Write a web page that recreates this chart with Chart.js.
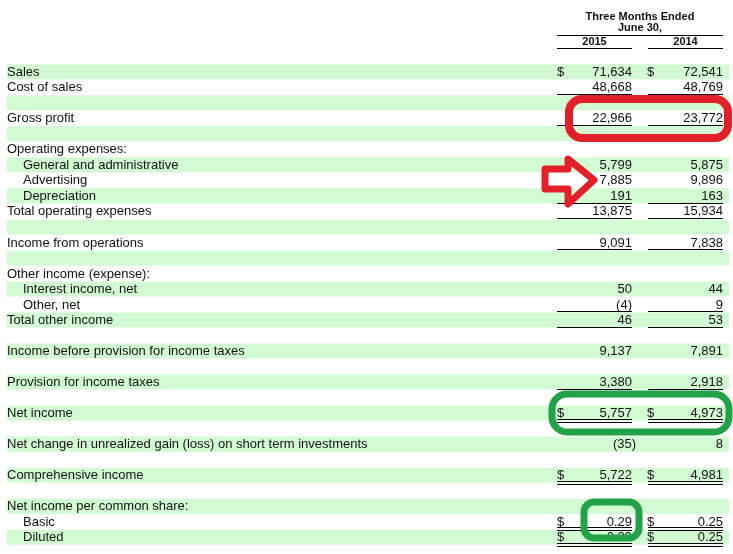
<!DOCTYPE html>
<html>
<head>
<meta charset="utf-8">
<script src="https://cdn.jsdelivr.net/npm/chart.js@4/dist/chart.umd.min.js"></script>
<style>
  html, body { margin: 0; padding: 0; background: #fff; }
  #wrap { width: 733px; height: 554px; position: relative; }
</style>
</head>
<body>
<div id="wrap"><canvas id="myChart"></canvas></div>
<script>
// rows of the statement
const rowLabels = [
  'Sales', 'Cost of sales', '', 'Gross profit', '',
  'Operating expenses:', 'General and administrative', 'Advertising', 'Depreciation',
  'Total operating expenses', '', 'Income from operations', '',
  'Other income (expense):', 'Interest income, net', 'Other, net', 'Total other income', '',
  'Income before provision for income taxes', '', 'Provision for income taxes', '',
  'Net income', '', 'Net change in unrealized gain (loss) on short term investments', '',
  'Comprehensive income', '', 'Net income per common share:', 'Basic', 'Diluted'
];
const indentedRows = [6, 7, 8, 14, 15, 29, 30];

const years = ['2015', '2014'];
const values2015 = [71634, 48668, null, 22966, null, null, 5799, 7885, 191, 13875, null, 9091, null,
  null, 50, -4, 46, null, 9137, null, 3380, null, 5757, null, -35, null, 5722, null, null, 0.29, 0.29];
const values2014 = [72541, 48769, null, 23772, null, null, 5875, 9896, 163, 15934, null, 7838, null,
  null, 44, 9, 53, null, 7891, null, 2918, null, 4973, null, 8, null, 4981, null, null, 0.25, 0.25];

const dollarRows = [0, 22, 26, 29, 30];
const singleRuleRows = [1, 3, 8, 9, 11, 15, 16, 20];
const doubleRuleRows = [22, 26, 29, 30];

// layout (pixels on the x scale)
const BAND_COLOR = '#d3fbd3';
const TEXT_COLOR = '#111';
const FONT = '"Liberation Sans", Arial, sans-serif';
const cols = [
  { dollar: 557, right: 632, ruleL: 557, ruleR: 632 },
  { dollar: 647, right: 723, ruleL: 648, ruleR: 723 }
];

const bandRanges = rowLabels.map((_, i) => (i % 2 === 0 ? [7, 729] : null));

function fmt(v) {
  if (Math.abs(v) < 1) return v.toFixed(2);
  const s = Math.abs(v).toLocaleString('en-US');
  return v < 0 ? '(' + s + ')' : s;
}

function roundRect(ctx, x, y, w, h, r) {
  ctx.beginPath();
  ctx.moveTo(x + r, y);
  ctx.arcTo(x + w, y, x + w, y + h, r);
  ctx.arcTo(x + w, y + h, x, y + h, r);
  ctx.arcTo(x, y + h, x, y, r);
  ctx.arcTo(x, y, x + w, y, r);
  ctx.closePath();
}

const tablePlugin = {
  id: 'tableText',
  afterDatasetsDraw(chart) {
    const ctx = chart.ctx;
    const xs = chart.scales.x;
    const ys = chart.scales.y;
    const rowH = (ys.bottom - ys.top) / rowLabels.length;
    const px = v => xs.getPixelForValue(v);

    ctx.save();
    ctx.fillStyle = TEXT_COLOR;
    ctx.strokeStyle = '#000';
    ctx.lineWidth = 1;

    // header
    ctx.font = 'bold 11px ' + FONT;
    ctx.textAlign = 'center';
    ctx.textBaseline = 'middle';
    const mid = (px(cols[0].ruleL) + px(cols[1].ruleR)) / 2;
    ctx.fillText('Three Months Ended', mid, 17);
    ctx.fillText('June 30,', mid, 28);
    ctx.beginPath();
    ctx.moveTo(px(cols[0].ruleL), 35.5);
    ctx.lineTo(px(cols[1].ruleR), 35.5);
    years.forEach((yr, c) => {
      const l = px(cols[c].ruleL), r = px(cols[c].ruleR);
      ctx.fillText(yr, (l + r) / 2, 42);
      ctx.moveTo(l, 48.5);
      ctx.lineTo(r, 48.5);
    });
    ctx.stroke();

    // row labels and numbers
    ctx.font = '13px ' + FONT;
    rowLabels.forEach((lab, i) => {
      const y = ys.getPixelForValue(i);
      ctx.textAlign = 'left';
      if (lab) ctx.fillText(lab, px(indentedRows.includes(i) ? 23 : 7), y + 0.5);
      [values2015, values2014].forEach((vals, c) => {
        const v = vals[i];
        if (v === null) return;
        if (dollarRows.includes(i)) {
          ctx.textAlign = 'left';
          ctx.fillText('$', px(cols[c].dollar), y + 0.5);
        }
        ctx.textAlign = 'right';
        const hang = v < 0 && Math.abs(v) >= 10 ? 4 : 0;
        ctx.fillText(fmt(v), px(cols[c].right) + hang, y + 0.5);
      });
      const bottom = Math.round(y + rowH / 2);
      ctx.beginPath();
      cols.forEach(col => {
        if (singleRuleRows.includes(i)) {
          ctx.moveTo(px(col.ruleL), bottom - 0.5);
          ctx.lineTo(px(col.ruleR), bottom - 0.5);
        }
        if (doubleRuleRows.includes(i)) {
          ctx.moveTo(px(col.ruleL), bottom - 1.5);
          ctx.lineTo(px(col.ruleR), bottom - 1.5);
          ctx.moveTo(px(col.ruleL), bottom + 1.5);
          ctx.lineTo(px(col.ruleR), bottom + 1.5);
        }
      });
      ctx.stroke();
    });

    // hand-drawn highlights
    ctx.lineJoin = 'round';
    ctx.lineWidth = 8;
    ctx.strokeStyle = '#e3202a';
    roundRect(ctx, 569, 99, 159, 39, 13);
    ctx.stroke();
    ctx.lineWidth = 7;
    ctx.beginPath();
    ctx.moveTo(545, 169);
    ctx.lineTo(568, 169);
    ctx.lineTo(568, 159);
    ctx.lineTo(594, 180);
    ctx.lineTo(568, 204);
    ctx.lineTo(568, 189);
    ctx.lineTo(545, 189);
    ctx.closePath();
    ctx.stroke();

    ctx.lineWidth = 7;
    ctx.strokeStyle = '#23a348';
    roundRect(ctx, 552, 394, 177, 38, 15);
    ctx.stroke();
    roundRect(ctx, 584, 502, 55, 36, 10);
    ctx.stroke();
    ctx.restore();
  }
};

new Chart(document.getElementById('myChart'), {
  type: 'bar',
  data: {
    labels: rowLabels,
    datasets: [{
      data: bandRanges,
      backgroundColor: BAND_COLOR,
      borderWidth: 0,
      barPercentage: 1,
      categoryPercentage: 0.97
    }]
  },
  options: {
    indexAxis: 'y',
    responsive: true,
    maintainAspectRatio: false,
    animation: false,
    layout: { padding: { top: 64, bottom: 9, left: 0, right: 0 } },
    scales: {
      x: { type: 'linear', min: 0, max: 733, display: false },
      y: { display: false }
    },
    plugins: { legend: { display: false }, tooltip: { enabled: false } }
  },
  plugins: [tablePlugin]
});
</script>
</body>
</html>
